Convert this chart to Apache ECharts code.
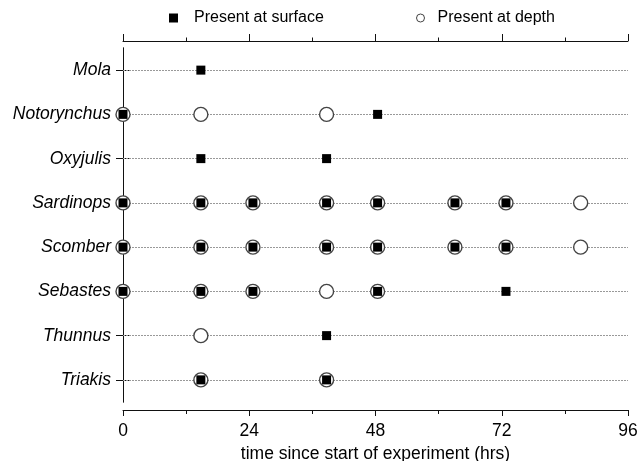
<!DOCTYPE html>
<html>
<head>
<meta charset="utf-8">
<script src="https://cdn.jsdelivr.net/npm/echarts@6/dist/echarts.min.js"></script>
<style>html,body{margin:0;padding:0;background:#fff;}#c{width:637px;height:461px;}</style>
</head>
<body>
<div id="c"></div>
<script>
// Species (top to bottom)
const species = ['Mola', 'Notorynchus', 'Oxyjulis', 'Sardinops', 'Scomber', 'Sebastes', 'Thunnus', 'Triakis'];
// Sampling times (hrs) where each species was present at the surface
const surfaceTimes = [
  [14.8],
  [0, 48.4],
  [14.8, 38.7],
  [0, 14.8, 24.7, 38.7, 48.4, 63.1, 72.8],
  [0, 14.8, 24.7, 38.7, 48.4, 63.1, 72.8],
  [0, 14.8, 24.7, 48.4, 72.8],
  [38.7],
  [14.8, 38.7]
];
// Sampling times (hrs) where each species was present at depth
const depthTimes = [
  [],
  [0, 14.8, 38.7],
  [],
  [0, 14.8, 24.7, 38.7, 48.4, 63.1, 72.8, 87],
  [0, 14.8, 24.7, 38.7, 48.4, 63.1, 72.8, 87],
  [0, 14.8, 24.7, 38.7, 48.4],
  [14.8],
  [14.8, 38.7]
];
const xTicks = [0, 24, 48, 72, 96];
const xTitle = 'time since start of experiment (hrs)';
const seriesNames = ['Present at surface', 'Present at depth'];

function toPoints(times) {
  const out = [];
  times.forEach((arr, i) => arr.forEach(t => out.push([t, species[i]])));
  return out;
}

const font = 'Liberation Sans, Arial, Helvetica, sans-serif';
const axisLine = { show: true, lineStyle: { color: '#111', width: 1 } };

const chart = echarts.init(document.getElementById('c'), null, { renderer: 'canvas' });
chart.setOption({
  animation: false,
  backgroundColor: '#fff',
  textStyle: { fontFamily: font },
  legend: [
    {
      data: [seriesNames[0]], left: 169, top: 10, padding: 0, itemWidth: 9, itemHeight: 9,
      textStyle: { fontSize: 16, color: '#000', fontFamily: font, padding: [0, 0, 0, 11] }
    },
    {
      data: [{ name: seriesNames[1], itemStyle: { borderWidth: 1 } }], left: 416, top: 10, padding: 0, itemWidth: 8, itemHeight: 8,
      textStyle: { fontSize: 16, color: '#000', fontFamily: font, padding: [0, 0, 0, 8] }
    }
  ],
  grid: { left: 123, right: 9, top: 48, bottom: 59, containLabel: false, outerBoundsMode: 'none' },
  xAxis: [
    {
      type: 'value', position: 'bottom', offset: 8, min: xTicks[0], max: xTicks[xTicks.length - 1], interval: 24,
      axisLine: axisLine,
      axisTick: { show: true, inside: false, length: 6, lineStyle: { color: '#111' } },
      minorTick: { show: true, splitNumber: 2, length: 4, lineStyle: { color: '#111' } },
      splitLine: { show: false },
      axisLabel: { fontSize: 17.5, color: '#000', margin: 12, fontFamily: font },
      name: xTitle, nameLocation: 'middle', nameGap: 32,
      nameTextStyle: { fontSize: 17.5, color: '#000', fontFamily: font }
    },
    {
      type: 'value', position: 'top', offset: 7, min: xTicks[0], max: xTicks[xTicks.length - 1], interval: 24,
      axisLine: axisLine,
      axisTick: { show: true, inside: false, length: 7, lineStyle: { color: '#111' } },
      minorTick: { show: true, splitNumber: 2, length: 3.5, lineStyle: { color: '#111' } },
      splitLine: { show: false },
      axisLabel: { show: false }
    }
  ],
  yAxis: [
    {
      type: 'category', data: species, inverse: true, position: 'left',
      axisLine: axisLine,
      axisTick: { show: true, alignWithLabel: true, length: 7, lineStyle: { color: '#111' } },
      axisLabel: { fontSize: 17.5, fontStyle: 'italic', color: '#000', margin: 12, fontFamily: font },
      splitLine: { show: false }
    },
    {
      type: 'category', data: species, inverse: true, position: 'right',
      axisLine: axisLine,
      axisTick: { show: true, alignWithLabel: true, length: 8, lineStyle: { color: '#111' } },
      axisLabel: { show: false },
      splitLine: { show: false }
    }
  ],
  series: [
    {
      name: seriesNames[1], type: 'scatter', xAxisIndex: 0, yAxisIndex: 0, clip: false,
      symbol: 'circle', symbolSize: 14, z: 3,
      itemStyle: { color: '#fff', borderColor: '#444', borderWidth: 1.4, opacity: 1 },
      data: toPoints(depthTimes),
      markLine: {
        silent: true, symbol: 'none', z: 1,
        label: { show: false },
        lineStyle: { color: '#999', width: 1, type: [2, 1] },
        data: species.map(s => ({ yAxis: s }))
      }
    },
    {
      name: seriesNames[0], type: 'scatter', xAxisIndex: 0, yAxisIndex: 0, clip: false,
      symbol: 'rect', symbolSize: 9, z: 4,
      itemStyle: { color: '#000', opacity: 1 },
      data: toPoints(surfaceTimes)
    }
  ]
});
</script>
</body>
</html>
